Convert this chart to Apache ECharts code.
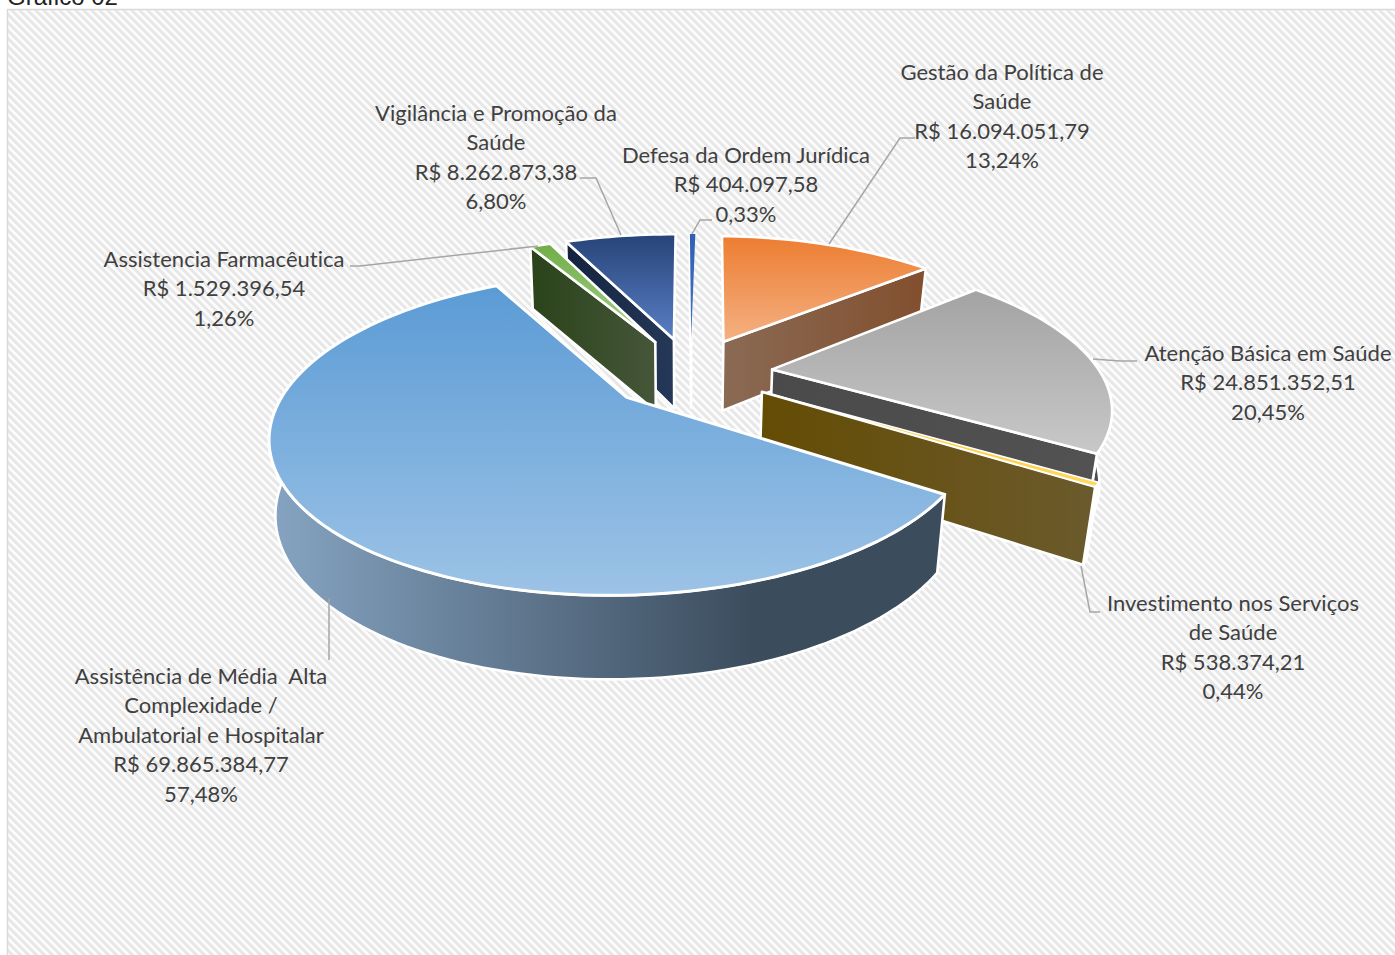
<!DOCTYPE html>
<html>
<head>
<meta charset="utf-8">
<title>Gráfico 02</title>
<style>
  html, body { margin: 0; padding: 0; background: #fff; }
  #chart { width: 1395px; height: 955px; overflow: hidden; }
  #chart text { font-variant-ligatures: none; font-feature-settings: "liga" 0, "clig" 0, "calt" 0; letter-spacing: 0.001em; }
</style>
</head>
<body>
<div id="chart"></div>
<script src="https://cdn.jsdelivr.net/npm/echarts@6/dist/echarts.min.js"></script>
<script>
// order is the order round the pie, clockwise from 12 o'clock
const categories = [
  ['Gestão da Política de', 'Saúde'],
  ['Atenção Básica em Saúde'],
  ['Investimento nos Serviços', 'de Saúde'],
  ['Assistência de Média  Alta', 'Complexidade /', 'Ambulatorial e Hospitalar'],
  ['Assistencia Farmacêutica'],
  ['Vigilância e Promoção da', 'Saúde'],
  ['Defesa da Ordem Jurídica']
];
const amounts = [16094051.79, 24851352.51, 538374.21, 69865384.77, 1529396.54, 8262873.38, 404097.58];

// painter's order, back to front
const drawRank = [2, 3, 4, 6, 5, 1, 0];
const topColors = [
  ['#ed7d31', '#f4b183'], ['#a3a3a3', '#c8c8c8'], ['#ffc000', '#ffd966'], ['#5b9bd5', '#9dc3e6'],
  ['#70ad47', '#a9d18e'], ['#264478', '#5b7fc6'], ['#2f5fb8', '#4472c4']
];
const wallColors = [
  ['#8a6a54', '#824f2e'], ['#4a4a4a', '#525252'], ['#644c04', '#6b5a2c'], ['#86a4c2', '#3b4c5d'],
  ['#2a431a', '#46563a'], ['#13233f', '#263858'], ['#1f3864', '#2f5597']
];
const explodes = [0.248, 0.248, 0.248, 0.256, 0.248, 0.248, 0.248];
const topEdges = [2.6, 2.6, 1.6, 3, 2.6, 2.6, 0];

// label layout: centre x, y of first line, leader line
const labelLayout = [
  { x: 1002, y: 71.5, leader: [[829, 244], [900, 138], [915, 138]] },
  { x: 1268, y: 352.5, leader: [[1093, 359], [1120, 361], [1137, 361]] },
  { x: 1233, y: 602.5, leader: [[1081, 566], [1090, 612], [1100, 612]] },
  { x: 201, y: 675.5, leader: [[329, 598], [329, 660]] },
  { x: 224, y: 258.5, leader: [[538, 246], [360, 266], [350, 266]] },
  { x: 496, y: 112.5, leader: [[621, 235], [596, 178], [580, 178]] },
  { x: 746, y: 154.5, leader: [[692, 234], [700, 220], [712, 220]] }
];
const lineStep = 29.4;
const labelFont = '22px Lato, sans-serif';

// projection of the pie plane (unit radius) onto the screen
const view = {
  x0: 691, y0: 372, a: 330, b: 141, k: 0.22, shearX: 4, shearY: 3,
  depth: 71, k2: 0.132, shrinkRight: 0.97, shrinkLeft: 0.985
};

const total = amounts.reduce((s, v) => s + v, 0);
const starts = [];
amounts.reduce((acc, v, i) => { starts[i] = acc; return acc + v; }, 0);

function project(u, v, bottom) {
  const d = 1 + view.k * v;
  let sx = view.x0 + view.a * u / d + view.shearX * v;
  let sy = view.y0 - view.b * v / d + view.shearY * u;
  if (bottom) {
    sx = view.x0 + (sx - view.x0) * (u < 0 ? view.shrinkLeft : view.shrinkRight);
    sy += view.depth / (1 + view.k2 * v);
  }
  return [sx, sy];
}

function brl(v) {
  const [int, dec] = v.toFixed(2).split('.');
  return 'R$ ' + int.replace(/\B(?=(\d{3})+$)/g, '.') + ',' + dec;
}

function pct(v) {
  return (v / total * 100).toFixed(2).replace('.', ',') + '%';
}

function renderSlice(params) {
  const i = params.dataIndex;
  const t0 = starts[i] / total * Math.PI * 2;
  const t1 = (starts[i] + amounts[i]) / total * Math.PI * 2;
  const mid = (t0 + t1) / 2;
  const ox = explodes[i] * Math.sin(mid);
  const oy = explodes[i] * Math.cos(mid);
  const z = drawRank[i] * 10;

  const steps = Math.max(2, Math.ceil((t1 - t0) / 0.03));
  const arcTop = [];
  const arcBottom = [];
  const wallTop = [];
  const wallBottom = [];
  for (let s = 0; s <= steps; s++) {
    const t = t0 + (t1 - t0) * s / steps;
    const top = project(ox + Math.sin(t), oy + Math.cos(t), false);
    const bottom = project(ox + Math.sin(t), oy + Math.cos(t), true);
    arcTop.push(top);
    arcBottom.push(bottom);
    // outer wall only where it faces the viewer
    if (Math.cos(t) < 0.15) {
      wallTop.push(top);
      wallBottom.push(bottom);
    }
  }
  const apexTop = project(ox, oy, false);
  const apexBottom = project(ox, oy, true);

  const wallFill = new echarts.graphic.LinearGradient(0, 0, 1, 0, [
    { offset: 0, color: wallColors[i][0] },
    { offset: i === 3 ? 0.72 : 1, color: wallColors[i][1] },
    { offset: 1, color: wallColors[i][1] }
  ]);
  const topFill = new echarts.graphic.LinearGradient(0, 0, 0, 1, [
    { offset: 0, color: topColors[i][0] },
    { offset: 1, color: topColors[i][1] }
  ]);
  const edge = { stroke: '#fff', lineWidth: 2.6, lineJoin: 'round' };
  const children = [];

  if (wallTop.length > 1) {
    children.push({
      type: 'polygon', z2: z,
      shape: { points: wallTop.concat(wallBottom.reverse()) },
      style: Object.assign({ fill: wallFill }, edge)
    });
  }
  // radial face that looks at the viewer
  const side = mid < Math.PI ? steps : 0;
  if (i !== 3) {
    children.push({
      type: 'polygon', z2: z + 1,
      shape: { points: [apexTop, arcTop[side], arcBottom[side], apexBottom] },
      style: Object.assign({ fill: wallFill }, edge)
    });
  }
  children.push({
    type: 'polygon', z2: z + 2,
    shape: { points: [apexTop].concat(arcTop) },
    style: Object.assign({ fill: topFill }, edge, { lineWidth: topEdges[i] })
  });

  // leader and data label
  const lay = labelLayout[i];
  children.push({
    type: 'polyline', z2: 100,
    shape: { points: lay.leader },
    style: { fill: 'none', stroke: '#a6a6a6', lineWidth: 1.5 }
  });
  categories[i].concat([brl(amounts[i]), pct(amounts[i])]).forEach((line, n) => {
    children.push({
      type: 'text', z2: 101,
      style: {
        text: line, x: lay.x, y: lay.y + n * lineStep,
        align: 'center', verticalAlign: 'middle', font: labelFont, fill: '#404040'
      }
    });
  });
  return { type: 'group', children };
}

function stripeTile() {
  const size = 8;
  const c = document.createElement('canvas');
  c.width = c.height = size;
  const g = c.getContext('2d');
  g.fillStyle = '#fbfbfb';
  g.fillRect(0, 0, size, size);
  g.fillStyle = '#e7e7e7';
  for (let y = 0; y < size; y++) {
    for (let x = 0; x < size; x++) {
      if (((x - y + size) % size) < size / 2) g.fillRect(x, y, 1, 1);
    }
  }
  return c;
}

const chart = echarts.init(document.getElementById('chart'), null, { renderer: 'svg' });
chart.setOption({
  animation: false,
  backgroundColor: '#fff',
  graphic: [
    {
      type: 'rect', z: -1, silent: true,
      shape: { x: 7.5, y: 9.5, width: 1400, height: 960 },
      style: { fill: { image: stripeTile(), repeat: 'repeat' }, stroke: '#d9d9d9', lineWidth: 1.5 }
    },
    {
      type: 'text', z: -1, silent: true,
      style: { text: 'Gráfico 02', x: 7, y: 8, verticalAlign: 'bottom', font: '24px "Liberation Sans", Arial, sans-serif', fill: '#222' }
    }
  ],
  tooltip: {
    formatter: p => categories[p.dataIndex].join(' ') + '<br/>' + brl(p.value) + ' (' + pct(p.value) + ')'
  },
  series: [{
    type: 'custom',
    coordinateSystem: 'none',
    renderItem: renderSlice,
    data: amounts
  }]
});

window.addEventListener('resize', () => chart.resize());
</script>
</body>
</html>
